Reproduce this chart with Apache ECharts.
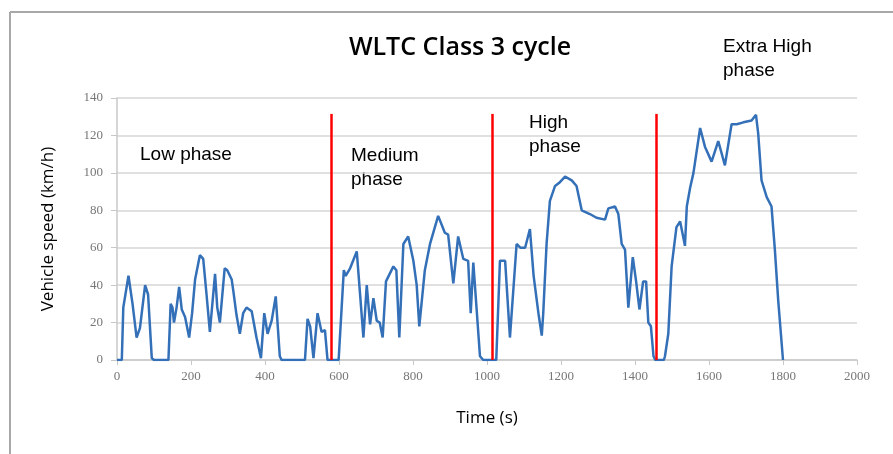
<!DOCTYPE html>
<html>
<head>
<meta charset="utf-8">
<script src="https://cdn.jsdelivr.net/npm/echarts@6/dist/echarts.min.js"></script>
<style>
  html, body { margin: 0; padding: 0; background: #fff; }
  #chart { width: 893px; height: 454px; }
</style>
</head>
<body>
<div id="chart"></div>
<script>
// time (s) and speed (km/h)
var time = [0, 13, 17, 31, 42, 53, 62, 76, 84, 94, 100, 139, 145, 150, 154, 161, 168, 175, 184, 195,
  203, 211, 224, 233, 242, 251, 265, 271, 278, 291, 298, 310, 315, 323, 332, 341, 350, 364, 377, 389,
  398, 407, 418, 429, 440, 445, 508, 515, 522, 531, 542, 553, 562, 569, 599, 613, 618, 630, 648, 666,
  675, 684, 693, 702, 710, 718, 727, 747, 755, 763, 774, 787, 801, 810, 817, 832, 846, 868, 886, 895,
  909, 922, 936, 949, 956, 963, 981, 990, 1025, 1035, 1049, 1062, 1080, 1090, 1103, 1116, 1126, 1139, 1148, 1152,
  1161, 1170, 1184, 1197, 1211, 1229, 1242, 1256, 1278, 1296, 1319, 1328, 1346, 1355, 1364, 1373, 1382, 1394, 1403, 1412,
  1422, 1430, 1436, 1443, 1450, 1455, 1478, 1481, 1490, 1499, 1512, 1522, 1535, 1540, 1549, 1558, 1576, 1589, 1607, 1625,
  1643, 1661, 1675, 1693, 1715, 1727, 1733, 1742, 1756, 1769, 1778, 1787, 1800];
var speed = [0, 0, 28, 45, 30, 12, 17, 40, 35, 1, 0, 0, 30, 28, 20, 28, 39, 27, 23, 12,
  25, 43, 56, 54, 35, 15, 46, 28, 20, 49, 48, 43, 36, 24, 14, 25, 28, 26, 12, 1,
  25, 14, 21, 34, 2, 0, 0, 22, 18, 1, 25, 15, 16, 0, 0, 48, 45, 49, 58, 12,
  40, 19, 33, 21, 20, 12, 42, 50, 48, 12, 62, 66, 53, 40, 18, 48, 62, 77, 68, 67,
  41, 66, 54, 53, 25, 52, 2, 0, 0, 53, 53, 12, 62, 60, 60, 70, 45, 25, 13, 25,
  62, 85, 93, 95, 98, 96, 93, 80, 78, 76, 75, 81, 82, 78, 62, 59, 28, 55, 42, 27,
  42, 42, 20, 18, 2, 0, 0, 2, 14, 50, 71, 74, 61, 82, 92, 100, 124, 114, 106, 117,
  104, 126, 126, 127, 128, 131, 121, 96, 87, 82, 59, 32, 0];

// phase boundaries (s) and red line height
var phaseEnds = [580, 1015, 1457];
var markTop = 131.5;

var myChart = echarts.init(document.getElementById('chart'));

var lineData = time.map(function (t, i) { return [t, speed[i]]; });
var marks = phaseEnds.map(function (t) {
  return [{ coord: [t, 0] }, { coord: [t, markTop] }];
});

var option = {
  animation: false,
  backgroundColor: '#fff',
  grid: { left: 117, right: 36, top: 98, bottom: 94 },
  title: {
    text: 'WLTC Class 3 cycle',
    left: 455,
    top: 30,
    textAlign: 'center',
    textStyle: { fontFamily: 'Open Sans', fontWeight: 600, fontSize: 25, color: '#000' }
  },
  xAxis: {
    type: 'value',
    min: 0, max: 2000, interval: 200,
    name: 'Time (s)',
    nameLocation: 'middle',
    nameGap: 50,
    nameTextStyle: { fontFamily: 'Open Sans', fontSize: 17, color: '#000' },
    axisLine: { show: true, lineStyle: { color: '#c8c8c8', width: 1.5 } },
    axisTick: { show: true, length: 5, lineStyle: { color: '#c8c8c8' } },
    axisLabel: {
      color: '#777', fontFamily: 'Liberation Sans Narrow', fontSize: 13, margin: 10,
      formatter: function (v) { return String(v); }
    },
    splitLine: { show: false }
  },
  yAxis: {
    type: 'value',
    min: 0, max: 140, interval: 20,
    name: 'Vehicle speed (km/h)',
    nameLocation: 'middle',
    nameGap: 60,
    nameTextStyle: { fontFamily: 'Open Sans', fontSize: 17, color: '#000' },
    axisLine: { show: true, lineStyle: { color: '#c8c8c8', width: 1.5 } },
    axisTick: { show: true, length: 6, lineStyle: { color: '#c8c8c8' } },
    axisLabel: { color: '#777', fontFamily: 'Liberation Sans Narrow', fontSize: 13, margin: 14 },
    splitLine: { show: true, lineStyle: { color: '#d6d6d6', width: 1.5 } }
  },
  series: [{
    type: 'line',
    data: lineData,
    showSymbol: false,
    symbol: 'none',
    lineStyle: { color: '#3470b8', width: 2.5 },
    markLine: {
      silent: true,
      symbol: 'none',
      label: { show: false },
      lineStyle: { color: '#ff0000', width: 2.5, type: 'solid' },
      data: marks
    }
  }],
  graphic: [
    { type: 'line', shape: { x1: 10, y1: 12, x2: 893, y2: 12 }, style: { stroke: '#a8a8a8', lineWidth: 2 } },
    { type: 'line', shape: { x1: 10, y1: 12, x2: 10, y2: 454 }, style: { stroke: '#a8a8a8', lineWidth: 2 } },
    { type: 'text', left: 140, top: 145, style: { text: 'Low phase', font: '19px "Liberation Sans"', fill: '#000' } },
    { type: 'text', left: 351, top: 144, style: { text: 'Medium\nphase', font: '19px "Liberation Sans"', fill: '#000', lineHeight: 24 } },
    { type: 'text', left: 529, top: 111, style: { text: 'High\nphase', font: '19px "Liberation Sans"', fill: '#000', lineHeight: 24 } },
    { type: 'text', left: 723, top: 35, style: { text: 'Extra High\nphase', font: '19px "Liberation Sans"', fill: '#000', lineHeight: 24 } }
  ]
};

myChart.setOption(option);
</script>
</body>
</html>
